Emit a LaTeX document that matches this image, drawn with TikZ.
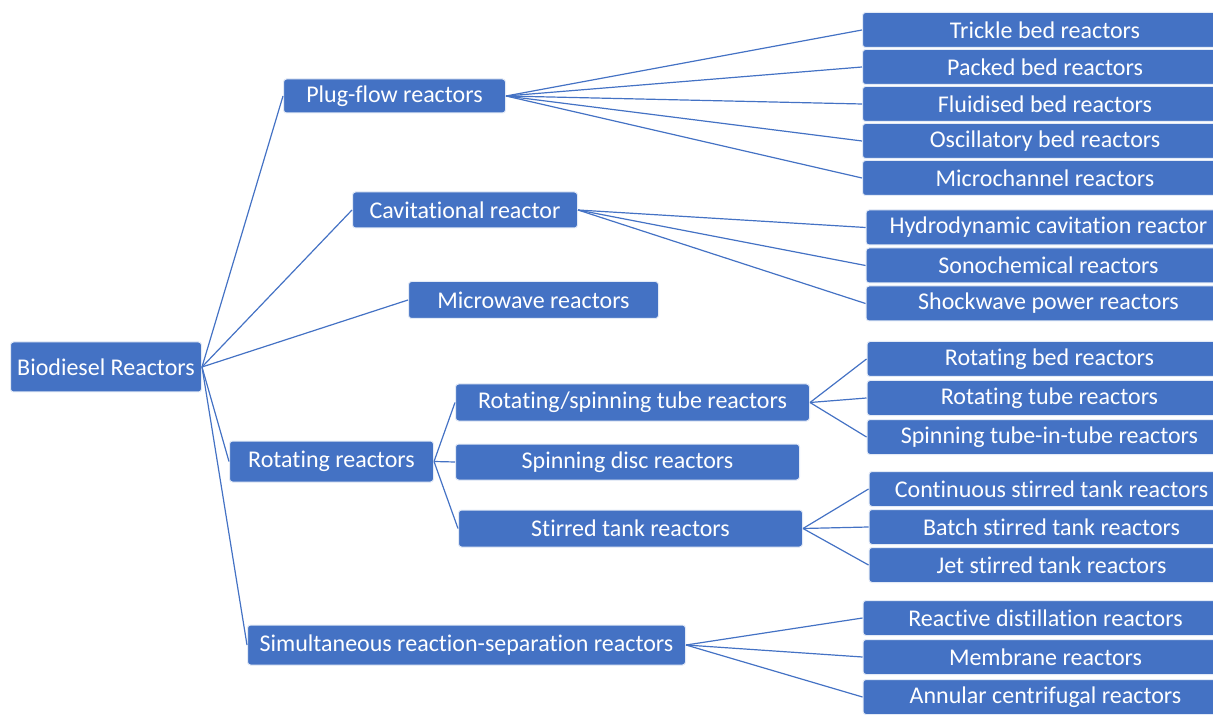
\documentclass[tikz,border=0pt]{standalone}
\usepackage{fontspec}
\setmainfont{Carlito}[Ligatures={NoCommon,NoContextual,NoRare},Contextuals=NoAlternate]
\usepackage{tikz}
\usetikzlibrary{positioning}
\definecolor{boxblue}{HTML}{4472C4}

\tikzset{
  box/.style={draw=white!85!boxblue, line width=0.5pt, fill=boxblue, rounded corners=1.5pt,
    text=white, font=\fontsize{12}{14}\selectfont, inner sep=0pt, anchor=west},
  leaf/.style={box, anchor=center, minimum width=182.5pt, minimum height=17.5pt},
  link/.style={draw=boxblue, line width=0.6pt}
}

\begin{document}
\begin{tikzpicture}[x=0.5pt,y=-0.5pt,node distance=19pt,on grid]
      \useasboundingbox (0,0) rectangle (1213,715);
      % root and first level
      \node[box, minimum width=95.5pt, minimum height=25pt] (root) at (10,367) {Biodiesel Reactors};
      \node[box, minimum width=111pt, minimum height=17pt]  (plug) at (283,96) {Plug-flow reactors};
      \node[box, minimum width=112.5pt, minimum height=18pt] (cav) at (352,210) {Cavitational reactor};
      \node[box, minimum width=125pt, minimum height=18.5pt] (micro) at (408,300) {Microwave reactors};
      \node[box, minimum width=102pt, minimum height=20.5pt] (rot) at (229,461.5) {Rotating reactors};
      \node[box, minimum width=219pt, minimum height=20pt] (simul) at (247,645) {Simultaneous reaction-separation reactors};
      % second level of rotating reactors
      \node[box, minimum width=177pt, minimum height=18.5pt] (rst) at (455,402.5) {Rotating/spinning tube reactors};
      \node[box, minimum width=172pt, minimum height=18pt] (sdisc) at (455,462) {Spinning disc reactors};
      \node[box, minimum width=172pt, minimum height=18.5pt] (stank) at (458,528.5) {Stirred tank reactors};
      % leaves
      \node[leaf] (trickle) at (1045,30) {Trickle bed reactors};
      \node[leaf] (packed) [below=18.5pt of trickle] {Packed bed reactors};
      \node[leaf] (fluid) [below=18.5pt of packed] {Fluidised bed reactors};
      \node[leaf] (osc) [below=18.5pt of fluid] {Oscillatory bed reactors};
      \node[leaf] (microch) [below=18.5pt of osc] {Microchannel reactors};
      \node[leaf] (hydro) at (1048.5,227.5) {Hydrodynamic cavitation reactor};
      \node[leaf] (sono) [below=of hydro] {Sonochemical reactors};
      \node[leaf] (shock) [below=of sono] {Shockwave power reactors};
      \node[leaf] (rbed) at (1049.5,359) {Rotating bed reactors};
      \node[leaf] (rtube) [below=19.5pt of rbed] {Rotating tube reactors};
      \node[leaf] (stt) [below=19.5pt of rtube] {Spinning tube-in-tube reactors};
      \node[leaf] (cstr) at (1051.5,489) {Continuous stirred tank reactors};
      \node[leaf] (bstr) [below=of cstr] {Batch stirred tank reactors};
      \node[leaf] (jstr) [below=of bstr] {Jet stirred tank reactors};
      \node[leaf] (rdist) at (1045.5,618) {Reactive distillation reactors};
      \node[leaf] (membr) [below=19.5pt of rdist] {Membrane reactors};
      \node[leaf] (annular) [below=20pt of membr] {Annular centrifugal reactors};
      % connectors
      \foreach \c in {plug,cav,micro,rot,simul}
        \draw[link] (root.east) -- (\c.west);
      \foreach \c in {trickle,packed,fluid,osc,microch}
        \draw[link] (plug.east) -- (\c.west);
      \foreach \c in {hydro,sono,shock}
        \draw[link] (cav.east) -- (\c.west);
      \foreach \c in {rst,sdisc,stank}
        \draw[link] (rot.east) -- (\c.west);
      \foreach \c in {rbed,rtube,stt}
        \draw[link] (rst.east) -- (\c.west);
      \foreach \c in {cstr,bstr,jstr}
        \draw[link] (stank.east) -- (\c.west);
      \foreach \c in {rdist,membr,annular}
        \draw[link] (simul.east) -- (\c.west);
    \end{tikzpicture}
\end{document}
